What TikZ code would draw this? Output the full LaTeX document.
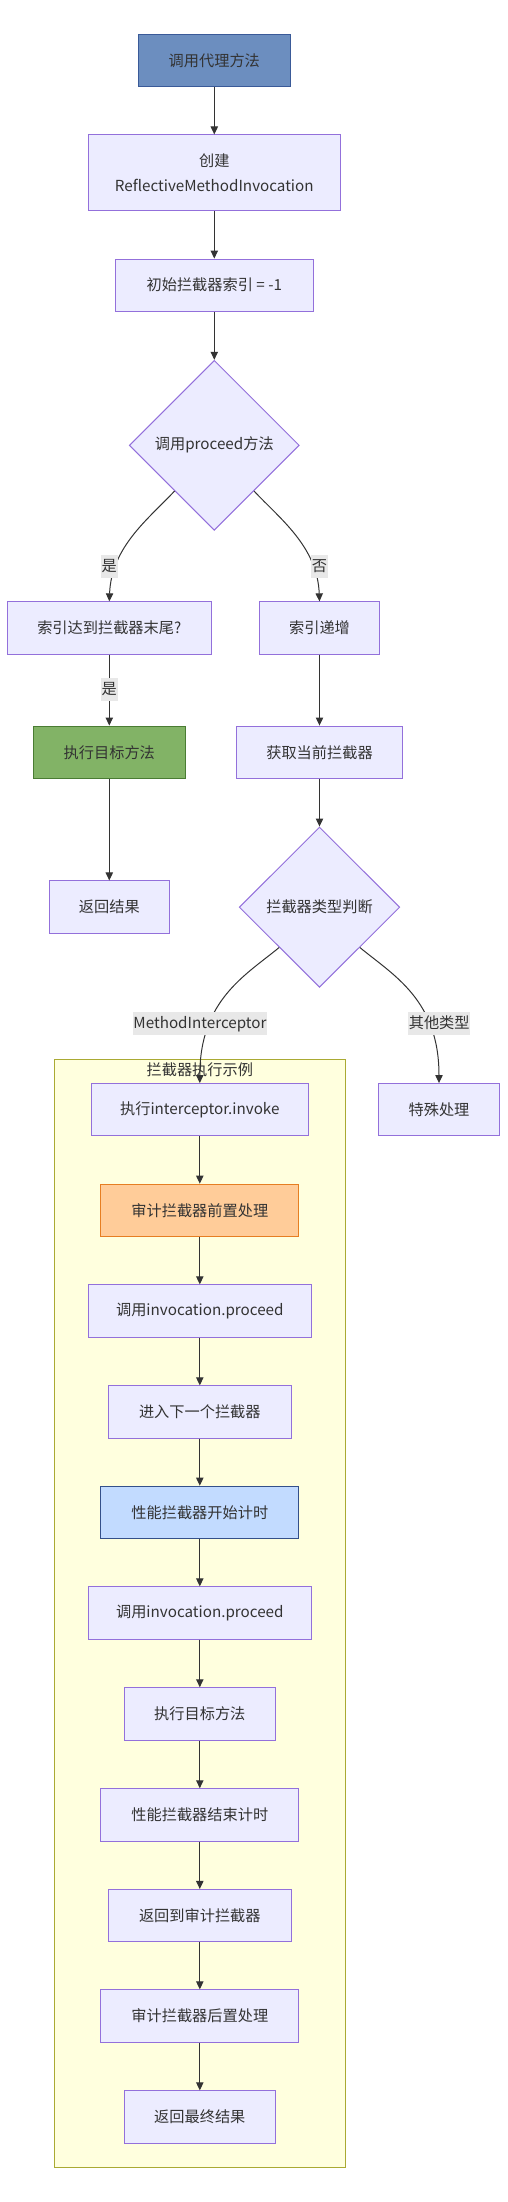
\documentclass[tikz,border=0pt]{standalone}
\usepackage{fontspec}
\setmainfont{Noto Sans CJK SC}
\usetikzlibrary{shapes.geometric,arrows.meta}

\definecolor{nodefill}{HTML}{ECECFF}
\definecolor{nodeline}{HTML}{9370DB}
\definecolor{txtgray}{HTML}{333333}
\definecolor{edgeline}{HTML}{333333}
\definecolor{lblfill}{HTML}{E8E8E8}
\definecolor{clusterfill}{HTML}{FFFFDE}
\definecolor{clusterline}{HTML}{AAAA33}
\definecolor{startfill}{HTML}{6C8EBF}
\definecolor{startline}{HTML}{3A5A98}
\definecolor{greenfill}{HTML}{82B366}
\definecolor{greenline}{HTML}{4A7C33}
\definecolor{orangefill}{HTML}{FFCC99}
\definecolor{orangeline}{HTML}{E67E22}
\definecolor{bluefill}{HTML}{C2DBFF}
\definecolor{blueline}{HTML}{34508A}

\tikzset{every picture/.style={line width=0.75pt}}
\tikzset{
	procbox/.style={draw=nodeline, fill=nodefill, text=txtgray, inner sep=0pt, minimum height=39.2pt, align=center, font=\fontsize{11.4pt}{18.4pt}\selectfont},
	decbox/.style={diamond, draw=nodeline, fill=nodefill, text=txtgray, inner sep=0pt, font=\fontsize{11.4pt}{18.4pt}\selectfont},
	edgelbl/.style={fill=lblfill, text=txtgray, inner xsep=0.5pt, inner ysep=0pt, text height=12.5pt, text depth=4.5pt, font=\fontsize{11.4pt}{14pt}\selectfont},
	flow/.style={draw=edgeline, -{Triangle[length=6pt,width=5.5pt]}},
}

\begin{document}
\begin{tikzpicture}[x=0.75pt,y=0.75pt,yscale=-1,xscale=1]
				\useasboundingbox (0,0) rectangle (507,2202);
				%Shape: Rectangle [subgraph]
				\draw [draw=clusterline, fill=clusterfill] (54.3,1059.3) rectangle (345.3,2167.4) ;
				% Text Node
				\node [text=txtgray, inner sep=0pt, font=\fontsize{11.4pt}{14pt}\selectfont] (clustertitle) at (199.8,1070.2) {拦截器执行示例};
				
				%Shape: Rectangle [start]
				\node [procbox, draw=startline, fill=startfill, minimum width=114pt] (start) at (214.3,60.7) {调用代理方法};
				%Shape: Rectangle
				\node [procbox, minimum width=189pt, minimum height=56.9pt] (create) at (214.3,172.9) {创建\\ReflectiveMethodInvocation};
				%Shape: Rectangle
				\node [procbox, minimum width=148.7pt] (initidx) at (214.3,285.2) {初始拦截器索引 = -1};
				%Shape: Diamond
				\node [decbox, minimum width=127.5pt, minimum height=127.5pt] (callproceed) at (214.3,445.3) {调用proceed方法};
				%Shape: Rectangle
				\node [procbox, minimum width=153pt] (idxend) at (109.3,628) {索引达到拦截器末尾?};
				%Shape: Rectangle
				\node [procbox, minimum width=90.2pt] (idxinc) at (319.5,628) {索引递增};
				%Shape: Rectangle [green]
				\node [procbox, draw=greenline, fill=greenfill, minimum width=114pt] (runtarget) at (109.3,752.2) {执行目标方法};
				%Shape: Rectangle
				\node [procbox, minimum width=125.2pt] (getcur) at (319.5,752.2) {获取当前拦截器};
				%Shape: Rectangle
				\node [procbox, minimum width=90.2pt] (retresult) at (109.3,907.1) {返回结果};
				%Shape: Diamond
				\node [decbox, minimum width=120.4pt, minimum height=120.2pt] (typecheck) at (319.5,907.2) {拦截器类型判断};
				%Shape: Rectangle
				\node [procbox, minimum width=90.5pt] (special) at (439,1109.7) {特殊处理};
				
				%Shape: Rectangle [subgraph nodes]
				\node [procbox, minimum width=162.8pt] (invoke) at (199.8,1109.7) {执行interceptor.invoke};
				%Shape: Rectangle [orange]
				\node [procbox, draw=orangeline, fill=orangefill, minimum width=148.5pt] (auditpre) at (199.8,1210.3) {审计拦截器前置处理};
				%Shape: Rectangle
				\node [procbox, minimum width=167.2pt] (proceedA) at (199.8,1311) {调用invocation.proceed};
				%Shape: Rectangle
				\node [procbox, minimum width=137pt] (nextint) at (199.8,1412) {进入下一个拦截器};
				%Shape: Rectangle [blue]
				\node [procbox, draw=blueline, fill=bluefill, minimum width=148.5pt] (perfstart) at (199.8,1512.3) {性能拦截器开始计时};
				%Shape: Rectangle
				\node [procbox, minimum width=167.2pt] (proceedB) at (199.8,1613) {调用invocation.proceed};
				%Shape: Rectangle
				\node [procbox, minimum width=113.5pt] (targetB) at (199.8,1713.9) {执行目标方法};
				%Shape: Rectangle
				\node [procbox, minimum width=148.5pt] (perfend) at (199.8,1814.9) {性能拦截器结束计时};
				%Shape: Rectangle
				\node [procbox, minimum width=137pt] (backaudit) at (199.8,1915.6) {返回到审计拦截器};
				%Shape: Rectangle
				\node [procbox, minimum width=148.5pt] (auditpost) at (199.8,2016) {审计拦截器后置处理};
				%Shape: Rectangle
				\node [procbox, minimum width=113.5pt] (final) at (199.8,2117) {返回最终结果};
				
				%Straight Lines
				\draw [flow] (start) -- (create) ;
				\draw [flow] (create) -- (initidx) ;
				\draw [flow] (initidx) -- (callproceed) ;
				\draw [flow] (idxend) -- (runtarget) ;
				\draw [flow] (runtarget) -- (retresult) ;
				\draw [flow] (idxinc) -- (getcur) ;
				\draw [flow] (getcur) -- (typecheck) ;
				\draw [flow] (invoke) -- (auditpre) ;
				\draw [flow] (auditpre) -- (proceedA) ;
				\draw [flow] (proceedA) -- (nextint) ;
				\draw [flow] (nextint) -- (perfstart) ;
				\draw [flow] (perfstart) -- (proceedB) ;
				\draw [flow] (proceedB) -- (targetB) ;
				\draw [flow] (targetB) -- (perfend) ;
				\draw [flow] (perfend) -- (backaudit) ;
				\draw [flow] (backaudit) -- (auditpost) ;
				\draw [flow] (auditpost) -- (final) ;
				%Curve Lines
				\draw [flow] (callproceed.-131) .. controls +(-25,27) and +(2,-55) .. (idxend.north) ;
				\draw [flow] (callproceed.-49) .. controls +(25,27) and +(-2,-55) .. (idxinc.north) ;
				\draw [flow] (typecheck.south west) .. controls +(-34,28) and +(0,-83) .. (invoke.north) ;
				\draw [flow] (typecheck.south east) .. controls +(34,28) and +(0,-83) .. (special.north) ;
				
				% Text Node
				\node [edgelbl] (lblyesA) at (109.3,566.3) {是};
				% Text Node
				\node [edgelbl] (lblno) at (319.4,566.3) {否};
				% Text Node
				\node [edgelbl] (lblyesB) at (109.3,689.6) {是};
				% Text Node
				\node [edgelbl] (lblmi) at (200,1023.3) {MethodInterceptor};
				% Text Node
				\node [edgelbl] (lblother) at (439.2,1023.3) {其他类型};
\end{tikzpicture}
\end{document}
